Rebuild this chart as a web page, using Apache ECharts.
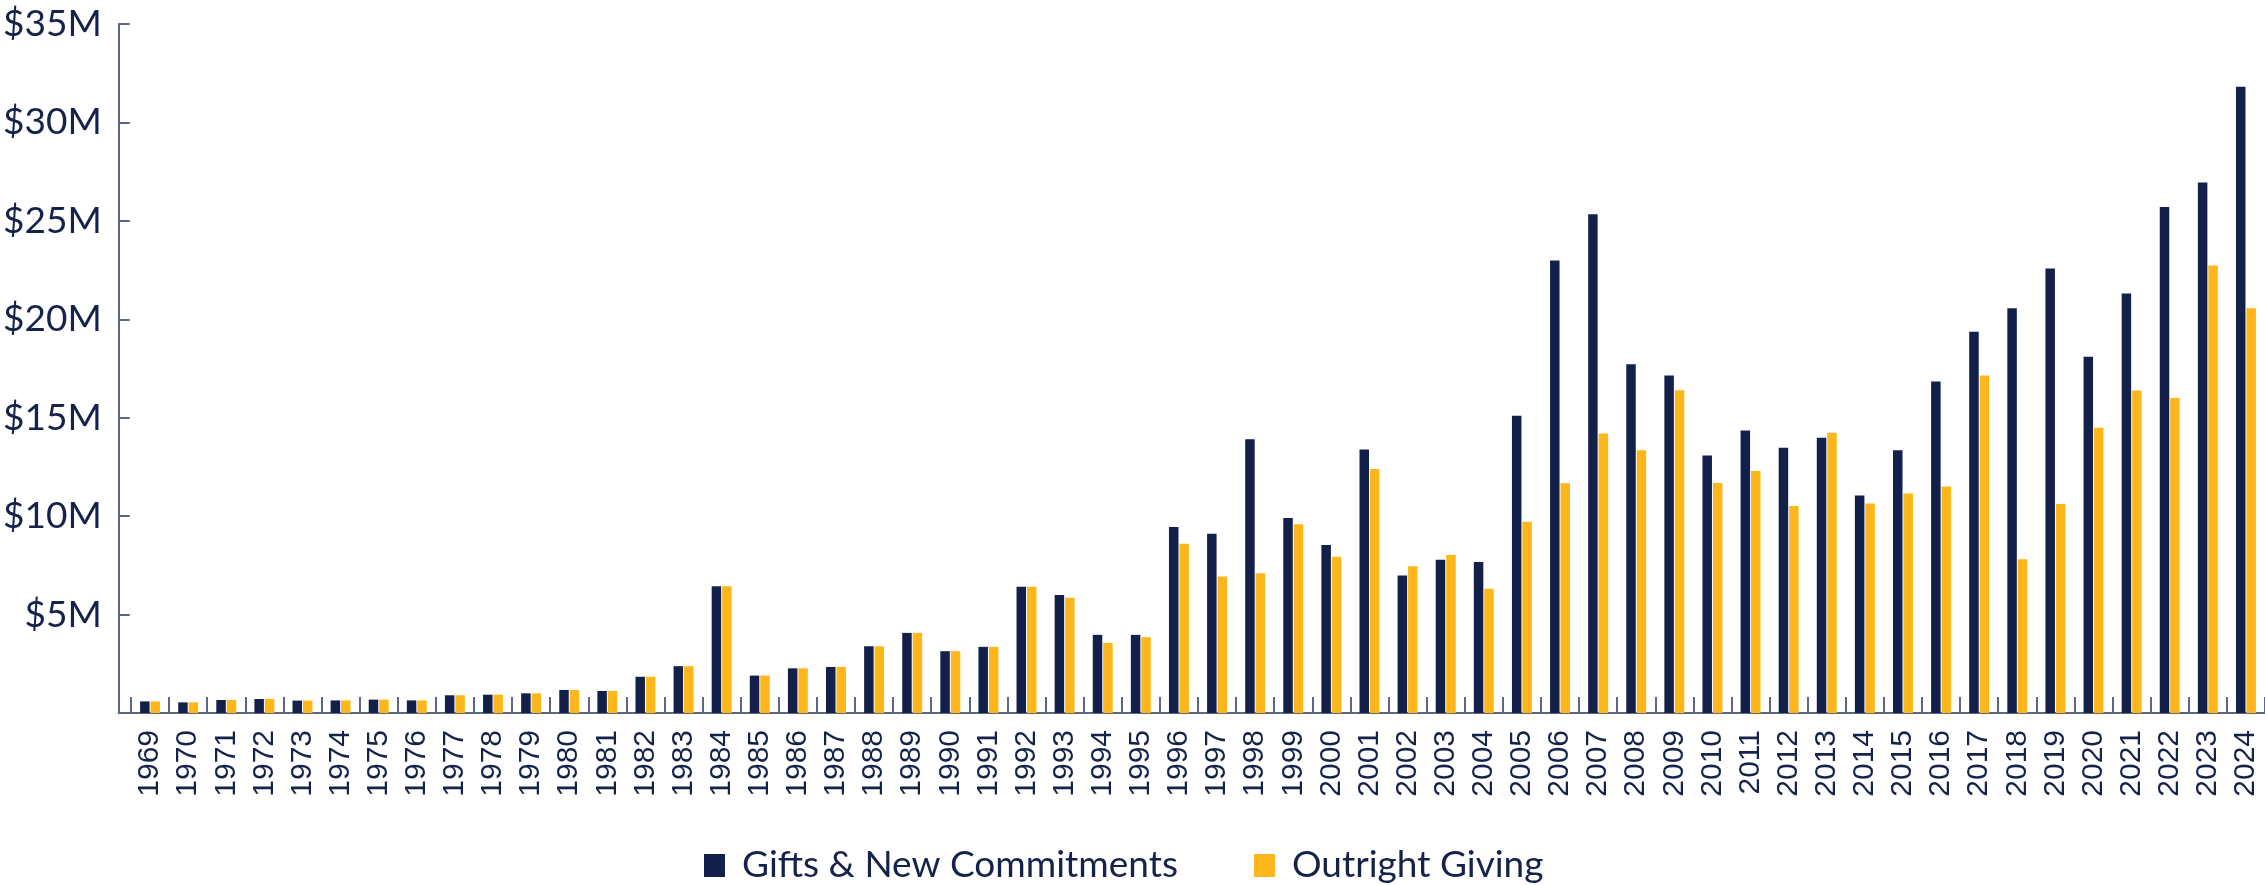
<!DOCTYPE html>
<html>
<head>
<meta charset="utf-8">
<script src="https://cdn.jsdelivr.net/npm/echarts@6/dist/echarts.min.js"></script>
<style>
html,body{margin:0;padding:0;background:#fff;}
#chart{width:2265px;height:885px;}
</style>
</head>
<body>
<div id="chart"></div>
<script>
const years = ['1969','1970','1971','1972','1973','1974','1975','1976','1977','1978',
  '1979','1980','1981','1982','1983','1984','1985','1986','1987','1988',
  '1989','1990','1991','1992','1993','1994','1995','1996','1997','1998',
  '1999','2000','2001','2002','2003','2004','2005','2006','2007','2008',
  '2009','2010','2011','2012','2013','2014','2015','2016','2017','2018',
  '2019','2020','2021','2022','2023','2024'];

// values in $ millions
const giftsNewCommitments = [0.59,0.54,0.66,0.71,0.63,0.64,0.68,0.64,0.90,0.93,
  1.00,1.17,1.12,1.84,2.38,6.44,1.90,2.27,2.34,3.39,
  4.07,3.14,3.36,6.41,6.00,3.97,3.97,9.45,9.10,13.90,
  9.90,8.53,13.39,6.98,7.78,7.67,15.10,22.98,25.33,17.71,
  17.14,13.08,14.35,13.48,13.98,11.05,13.35,16.84,19.37,20.56,
  22.58,18.10,21.31,25.71,26.95,31.81];

const outrightGiving = [0.59,0.54,0.66,0.71,0.63,0.64,0.68,0.64,0.90,0.93,
  1.00,1.17,1.12,1.84,2.38,6.44,1.90,2.27,2.34,3.39,
  4.07,3.14,3.36,6.41,5.86,3.56,3.85,8.60,6.94,7.10,
  9.59,7.94,12.39,7.45,8.02,6.31,9.71,11.67,14.20,13.35,
  16.39,11.68,12.29,10.52,14.24,10.64,11.15,11.50,17.14,7.81,
  10.62,14.49,16.38,16.00,22.73,20.56];

const seriesNames = ['Gifts & New Commitments', 'Outright Giving'];
const yMax = 35;
const yStep = 5;

const navy = '#13204a';
const gold = '#fdb71c';
const textColor = '#15224a';
const axisColor = '#5d6682';

const chart = echarts.init(document.getElementById('chart'), null, {renderer: 'canvas'});
chart.setOption({
  animation: false,
  backgroundColor: '#ffffff',
  grid: [
    {left: 131, right: -3, top: 24, bottom: 172, containLabel: false},
    {left: 118, right: 0, top: 24, bottom: 172, containLabel: false}
  ],
  legend: {
    left: 699,
    top: 842,
    itemWidth: 21,
    itemHeight: 23,
    itemGap: 76,
    icon: 'rect',
    data: seriesNames,
    textStyle: {
      fontFamily: 'Lato',
      fontSize: 37,
      color: textColor,
      padding: [0, 0, 0, 12]
    }
  },
  xAxis: [
    {
      gridIndex: 0,
      type: 'category',
      data: years,
      boundaryGap: true,
      axisLine: {show: false},
      axisTick: {show: true, inside: true, length: 16, lineStyle: {color: axisColor, width: 2}},
      axisLabel: {
        rotate: 90,
        interval: 0,
        margin: 17,
        fontFamily: 'Liberation Sans',
        fontSize: 30,
        color: textColor
      },
      splitLine: {show: false}
    },
    {
      gridIndex: 1,
      type: 'value',
      min: 0,
      max: 1,
      axisLine: {show: true, onZero: false, lineStyle: {color: axisColor, width: 2}},
      axisTick: {show: false},
      axisLabel: {show: false},
      splitLine: {show: false}
    }
  ],
  yAxis: [
    {
      gridIndex: 0,
      type: 'value',
      min: 0,
      max: yMax,
      interval: yStep,
      show: false,
      splitLine: {show: false}
    },
    {
      gridIndex: 1,
      type: 'value',
      min: 0,
      max: yMax,
      interval: yStep,
      axisLine: {show: true, lineStyle: {color: axisColor, width: 2}},
      axisTick: {show: true, inside: true, length: 11, lineStyle: {color: axisColor, width: 2}},
      axisLabel: {
        margin: 17,
        fontFamily: 'Lato',
        fontSize: 37,
        color: textColor,
        formatter: function (v) { return v === 0 ? '' : '$' + v + 'M'; }
      },
      splitLine: {show: false}
    }
  ],
  series: [
    {
      name: seriesNames[0],
      type: 'bar',
      xAxisIndex: 0,
      yAxisIndex: 0,
      data: giftsNewCommitments,
      barWidth: 9.5,
      barGap: '10%',
      itemStyle: {color: navy}
    },
    {
      name: seriesNames[1],
      type: 'bar',
      xAxisIndex: 0,
      yAxisIndex: 0,
      data: outrightGiving,
      barWidth: 9.5,
      barGap: '10%',
      itemStyle: {color: gold}
    }
  ]
});
</script>
</body>
</html>
